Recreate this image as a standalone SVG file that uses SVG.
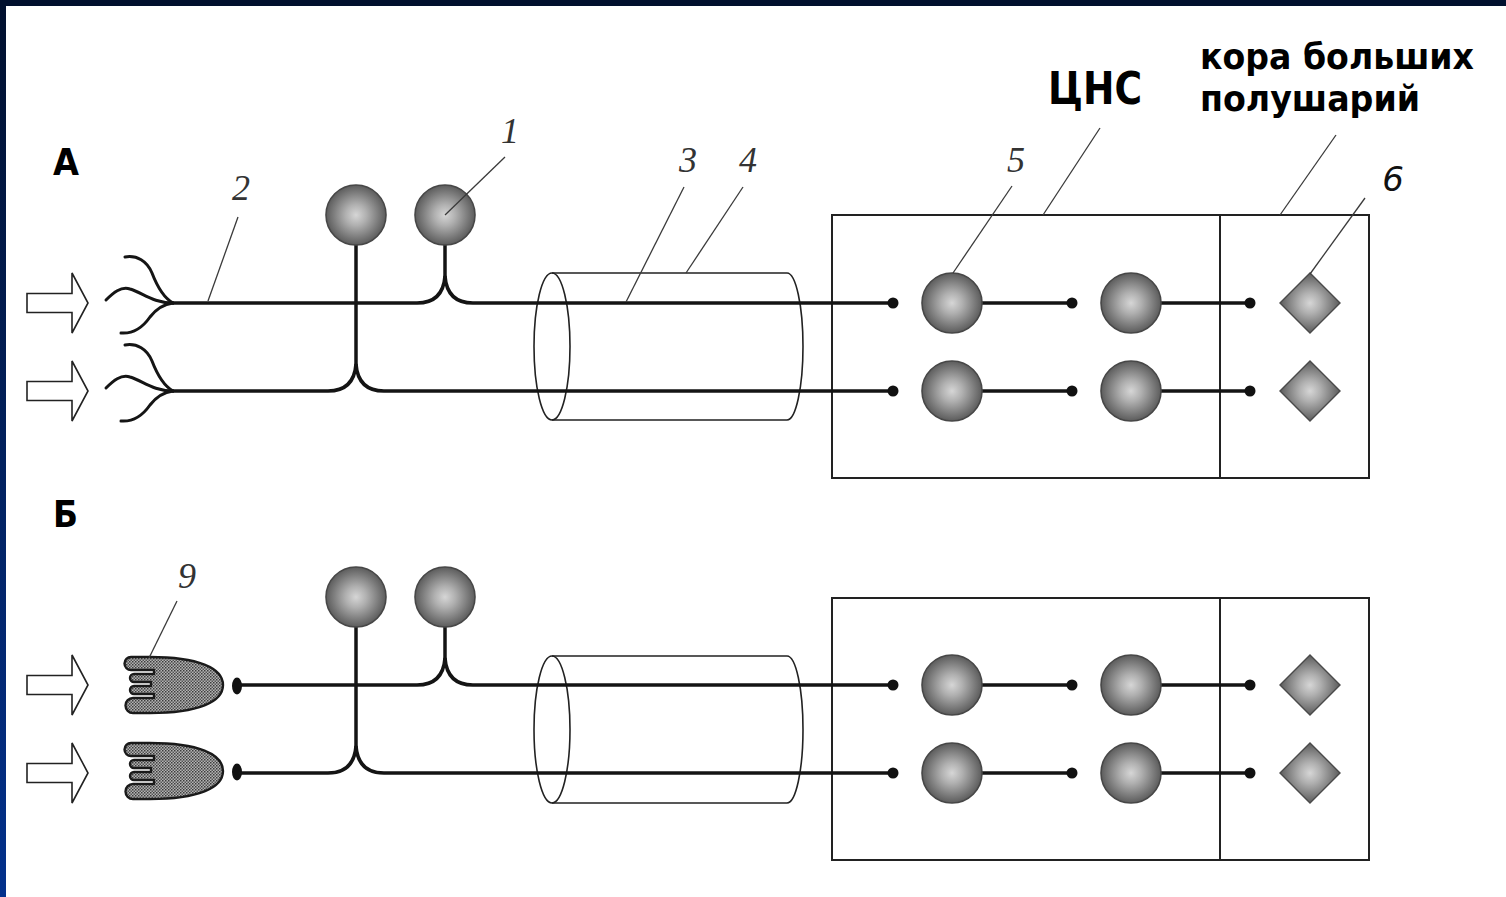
<svg xmlns="http://www.w3.org/2000/svg" xmlns:xlink="http://www.w3.org/1999/xlink" width="1506" height="897" viewBox="0 0 1506 897">
  <style>
    .axon { fill: none; stroke: #141414; stroke-width: 3.5; stroke-linecap: round; }
    .thin { fill: none; stroke: #3a3a3a; stroke-width: 1.3; }
    .frame { fill: none; stroke: #222; stroke-width: 2; }
    .sheath { fill: none; stroke: #222; stroke-width: 1.6; }
    .dend { fill: none; stroke: #151515; stroke-width: 3; stroke-linecap: round; }
    .num { font-family: "Liberation Serif", serif; font-style: italic; font-size: 36px; fill: #333; text-anchor: middle; }
    .head { font-family: "DejaVu Sans", Verdana, sans-serif; font-weight: bold; fill: #000; }
    .dot { fill: #111; }
  </style>
  <defs>
    <linearGradient id="edge" x1="0" y1="0" x2="0" y2="1">
      <stop offset="0" stop-color="#01102e"/>
      <stop offset="1" stop-color="#03318c"/>
    </linearGradient>
    <radialGradient id="soma" cx="0.5" cy="0.5" r="0.5">
      <stop offset="0" stop-color="#d6d6d6"/>
      <stop offset="0.35" stop-color="#b0b0b0"/>
      <stop offset="0.75" stop-color="#7c7c7c"/>
      <stop offset="1" stop-color="#5c5c5c"/>
    </radialGradient>
    <pattern id="skin" width="3" height="3" patternUnits="userSpaceOnUse">
      <rect width="3" height="3" fill="#b4b4b4"/>
      <rect width="1.5" height="1.5" fill="#3c3c3c"/>
      <rect x="1.5" y="1.5" width="1.5" height="1.5" fill="#555"/>
    </pattern>
    <!-- soma of a nerve cell, centred on the origin -->
    <symbol id="cell" overflow="visible">
      <circle r="30" fill="url(#soma)" stroke="#474747" stroke-width="1.6"/>
    </symbol>
    <!-- cortical cell, drawn as a rhombus -->
    <symbol id="rhomb" overflow="visible">
      <polygon points="0,-30 30,0 0,30 -30,0" fill="url(#soma)" stroke="#4a4a4a" stroke-width="1.4"/>
    </symbol>
    <!-- hollow stimulus arrow, tip at the origin -->
    <symbol id="stim" overflow="visible">
      <path d="M-61,-9.5 H-16 V-30 L0,0 L-16,30 V9.5 H-61 Z" fill="#fff" stroke="#222" stroke-width="1.6" stroke-linejoin="miter"/>
    </symbol>
    <!-- free nerve ending: three curled branches meeting at the origin -->
    <symbol id="ending" overflow="visible">
      <path class="dend" d="M-48,-46 C-36,-48 -26,-42 -21,-30 C-16,-17 -9,-5 0,0"/>
      <path class="dend" d="M-67,-3 C-60,-10 -52,-17 -43,-14 C-30,-10 -20,0 0,0"/>
      <path class="dend" d="M-52,30 C-40,31 -30,24 -23,14 C-16,5 -8,1 0,0"/>
    </symbol>
    <!-- receptor shaped like a hand: four fingers to the left, wrist on the right -->
    <symbol id="hand" overflow="visible">
      <path d="M150,-28 C198,-28 223,-17 223,0 C223,17 198,28 150,28
               H133 A7.5,7.5 0 0 1 133,13 H154 V9
               H134 A4,4 0 0 1 134,1 H151 V-3
               H134 A4,4 0 0 1 134,-11 H154 V-15
               H131 A6.5,6.5 0 0 1 131,-28 Z"
            fill="url(#skin)" stroke="#1a1a1a" stroke-width="2.4" stroke-linejoin="round"/>
      <ellipse cx="237" cy="1" rx="5" ry="8.5" fill="#111"/>
    </symbol>
  </defs>

  <!-- page -->
  <rect width="1506" height="897" fill="#fff"/>
  <rect x="0" y="0" width="6" height="897" fill="url(#edge)"/>
  <rect x="0" y="0" width="1506" height="6" fill="#01102e"/>

  <!-- headings -->
  <g id="heading-a"><text class="head" x="53" y="175" font-size="37" textLength="26" lengthAdjust="spacingAndGlyphs">А</text></g>
  <g id="heading-b"><text class="head" x="53" y="527" font-size="37" textLength="25" lengthAdjust="spacingAndGlyphs">Б</text></g>
  <g id="label-cns"><text class="head" x="1048" y="104" font-size="45" textLength="94" lengthAdjust="spacingAndGlyphs">ЦНС</text></g>
  <g id="label-cortex">
    <text class="head" x="1200" y="69" font-size="36" textLength="274" lengthAdjust="spacingAndGlyphs">кора больших</text>
    <text class="head" x="1200" y="111" font-size="36" textLength="220" lengthAdjust="spacingAndGlyphs">полушарий</text>
  </g>

  <!-- ============ A: free nerve endings ============ -->
  <g id="stimulus-a1"><use xlink:href="#stim" x="88" y="303"/></g>
  <g id="stimulus-a2"><use xlink:href="#stim" x="88" y="391"/></g>
  <g id="ending-a1"><use xlink:href="#ending" x="173" y="303"/></g>
  <g id="ending-a2"><use xlink:href="#ending" x="173" y="391"/></g>

  <g id="sheath-a">
    <ellipse class="sheath" cx="552" cy="346.5" rx="18" ry="73.5"/>
    <path class="sheath" d="M552,273 H787 A16,73.5 0 0 1 787,420 H552"/>
  </g>

  <g id="cns-a">
    <rect class="frame" x="832" y="215" width="537" height="263"/>
    <line class="frame" x1="1220" y1="215" x2="1220" y2="478"/>
  </g>

  <g id="connectors-a">
    <path class="axon" d="M356,245 V366"/>
    <path class="axon" d="M445,245 V278"/>
    <path class="axon" d="M173,303 H417 Q443,303 445,276 Q447,303 473,303 H893"/>
    <path class="axon" d="M173,391 H328 Q354,391 356,364 Q358,391 384,391 H893"/>
    <path class="axon" d="M982,303 H1072 M1161,303 H1250"/>
    <path class="axon" d="M982,391 H1072 M1161,391 H1250"/>
    <circle class="dot" cx="893" cy="303" r="5.5"/><circle class="dot" cx="1072" cy="303" r="5.5"/><circle class="dot" cx="1250" cy="303" r="5.5"/>
    <circle class="dot" cx="893" cy="391" r="5.5"/><circle class="dot" cx="1072" cy="391" r="5.5"/><circle class="dot" cx="1250" cy="391" r="5.5"/>
  </g>

  <g id="ganglion-a1"><use xlink:href="#cell" x="356" y="215"/></g>
  <g id="ganglion-a2"><use xlink:href="#cell" x="445" y="215"/></g>
  <g id="spinal-a1"><use xlink:href="#cell" x="952" y="303"/></g>
  <g id="spinal-a2"><use xlink:href="#cell" x="952" y="391"/></g>
  <g id="relay-a1"><use xlink:href="#cell" x="1131" y="303"/></g>
  <g id="relay-a2"><use xlink:href="#cell" x="1131" y="391"/></g>
  <g id="cortex-a1"><use xlink:href="#rhomb" x="1310" y="303"/></g>
  <g id="cortex-a2"><use xlink:href="#rhomb" x="1310" y="391"/></g>

  <!-- ============ Б: encapsulated receptors ============ -->
  <g id="stimulus-b1"><use xlink:href="#stim" x="88" y="685"/></g>
  <g id="stimulus-b2"><use xlink:href="#stim" x="88" y="773"/></g>
  <g id="receptor-b1"><use xlink:href="#hand" x="0" y="685"/></g>
  <g id="receptor-b2"><use xlink:href="#hand" x="0" y="771"/></g>

  <g id="sheath-b">
    <ellipse class="sheath" cx="552" cy="729.5" rx="18" ry="73.5"/>
    <path class="sheath" d="M552,656 H787 A16,73.5 0 0 1 787,803 H552"/>
  </g>

  <g id="cns-b">
    <rect class="frame" x="832" y="598" width="537" height="262"/>
    <line class="frame" x1="1220" y1="598" x2="1220" y2="860"/>
  </g>

  <g id="connectors-b">
    <path class="axon" d="M356,627 V748"/>
    <path class="axon" d="M445,627 V660"/>
    <path class="axon" d="M240,685 H417 Q443,685 445,658 Q447,685 473,685 H893"/>
    <path class="axon" d="M240,773 H328 Q354,773 356,746 Q358,773 384,773 H893"/>
    <path class="axon" d="M982,685 H1072 M1161,685 H1250"/>
    <path class="axon" d="M982,773 H1072 M1161,773 H1250"/>
    <circle class="dot" cx="893" cy="685" r="5.5"/><circle class="dot" cx="1072" cy="685" r="5.5"/><circle class="dot" cx="1250" cy="685" r="5.5"/>
    <circle class="dot" cx="893" cy="773" r="5.5"/><circle class="dot" cx="1072" cy="773" r="5.5"/><circle class="dot" cx="1250" cy="773" r="5.5"/>
  </g>

  <g id="ganglion-b1"><use xlink:href="#cell" x="356" y="597"/></g>
  <g id="ganglion-b2"><use xlink:href="#cell" x="445" y="597"/></g>
  <g id="spinal-b1"><use xlink:href="#cell" x="952" y="685"/></g>
  <g id="spinal-b2"><use xlink:href="#cell" x="952" y="773"/></g>
  <g id="relay-b1"><use xlink:href="#cell" x="1131" y="685"/></g>
  <g id="relay-b2"><use xlink:href="#cell" x="1131" y="773"/></g>
  <g id="cortex-b1"><use xlink:href="#rhomb" x="1310" y="685"/></g>
  <g id="cortex-b2"><use xlink:href="#rhomb" x="1310" y="773"/></g>

  <!-- numbered callouts and their leader lines -->
  <g id="callouts">
    <line class="thin" x1="505" y1="157" x2="445" y2="215"/>
    <line class="thin" x1="238" y1="217" x2="208" y2="301"/>
    <line class="thin" x1="684" y1="187" x2="626" y2="302"/>
    <line class="thin" x1="743" y1="187" x2="686" y2="273"/>
    <line class="thin" x1="1012" y1="186" x2="953" y2="273"/>
    <line class="thin" x1="1100" y1="128" x2="1043" y2="215"/>
    <line class="thin" x1="1336" y1="135" x2="1280" y2="215"/>
    <line class="thin" x1="1365" y1="198" x2="1310" y2="274"/>
    <line class="thin" x1="177" y1="601" x2="149" y2="658"/>
    <text class="num" x="510" y="143">1</text>
    <text class="num" x="241" y="200">2</text>
    <text class="num" x="688" y="172">3</text>
    <text class="num" x="748" y="172">4</text>
    <text class="num" x="1016" y="172">5</text>
    <text x="1393" y="191" font-family="DejaVu Sans, sans-serif" font-style="italic" font-size="34" fill="#111" text-anchor="middle">6</text>
    <text class="num" x="187" y="588">9</text>
  </g>
</svg>
